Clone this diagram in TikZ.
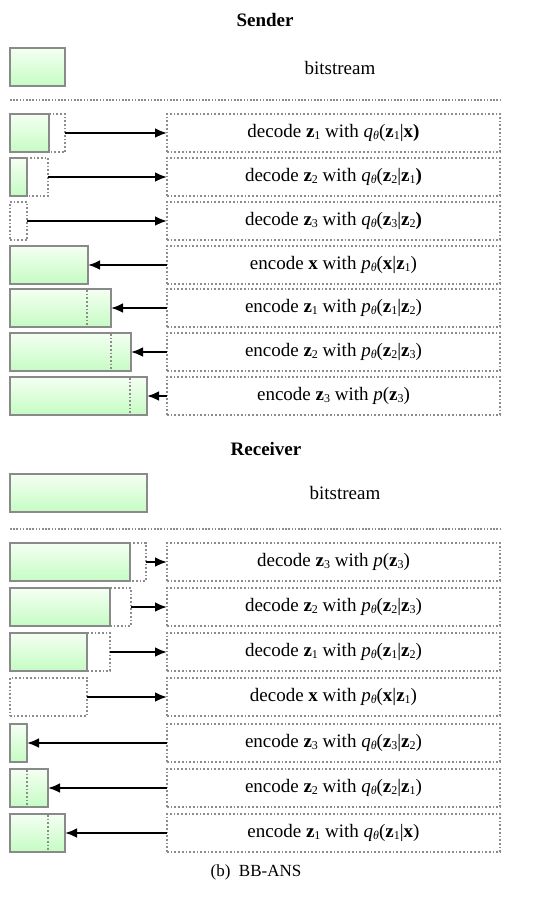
\documentclass[tikz,border=0pt]{standalone}
\usepackage{fontspec}
\setmainfont{Liberation Serif}
\usetikzlibrary{arrows.meta}
\definecolor{gtop}{RGB}{244,255,242}
\definecolor{gbot}{RGB}{198,252,196}
\definecolor{boxgray}{RGB}{138,138,138}
\definecolor{dotgray}{RGB}{140,140,140}
\newcommand\subs[1]{\raisebox{-0.12em}{\fontsize{12}{12}\selectfont #1}}
\newcommand\bz[1]{\textbf{z}\subs{#1}}
\newcommand\bx{\textbf{x}}
\newcommand\qth{\textit{q}\subs{\textit{θ}}}
\newcommand\pth{\textit{p}\subs{\textit{θ}}}
\tikzset{
  greenbox/.style={draw=boxgray, line width=2.2pt, top color=gtop, bottom color=gbot,
    inner sep=0pt, outer sep=0pt, anchor=north west, minimum height=38pt},
  dotbox/.style={draw=dotgray, line width=1.7pt, dash pattern=on 1.7pt off 2pt,
    inner sep=0pt, outer sep=0pt, anchor=north west, minimum height=38pt},
  opbox/.style={dotbox, minimum width=333pt, font=\fontsize{19}{22}\selectfont},
  arr/.style={line width=2.5pt, -{Latex[length=12pt,width=10pt]}},
  divline/.style={draw=dotgray, line width=1.7pt, dash pattern=on 1.7pt off 2pt},
  sepline/.style={draw=dotgray, line width=1.5pt, dash pattern=on 1.5pt off 1.7pt},
  title/.style={font=\fontsize{19}{22}\selectfont\bfseries},
  lbl/.style={font=\fontsize{19}{22}\selectfont},
}
\begin{document}
\begin{tikzpicture}[x=1pt,y=-1pt]
\useasboundingbox (0,0) rectangle (539,898);
% ---------------- Sender ----------------
\node[title] (stitle) at (265,20) {Sender};
\node[greenbox, minimum width=55pt] (sbits) at (10,48) {};
\node[lbl] (sbitslbl) at (340,68) {bitstream};
\draw[sepline] (10,100) -- (500,100);
% row 1
\node[dotbox, minimum width=55pt] (s1d) at (10,114) {};
\node[greenbox, minimum width=39pt] (s1g) at (10,114) {};
\node[opbox] (s1t) at (167,114) {decode \bz1 with \qth(\bz1|\bx\textbf{)}};
\draw[arr] (s1d.east) -- (s1t.west);
% row 2
\node[dotbox, minimum width=38pt] (s2d) at (10,158) {};
\node[greenbox, minimum width=17pt] (s2g) at (10,158) {};
\node[opbox] (s2t) at (167,158) {decode \bz2 with \qth(\bz2|\bz1\textbf{)}};
\draw[arr] (s2d.east) -- (s2t.west);
% row 3
\node[dotbox, minimum width=17pt] (s3d) at (10,202) {};
\node[opbox] (s3t) at (167,202) {decode \bz3 with \qth(\bz3|\bz2\textbf{)}};
\draw[arr] (s3d.east) -- (s3t.west);
% row 4
\node[greenbox, minimum width=78pt] (s4g) at (10,246) {};
\node[opbox] (s4t) at (167,246) {encode \bx\ with \pth(\bx|\bz1)};
\draw[arr] (s4t.west) -- (s4g.east);
% row 5
\node[greenbox, minimum width=101pt] (s5g) at (10,289) {};
\draw[divline] (87,290) -- (87,327);
\node[opbox] (s5t) at (167,289) {encode \bz1 with \pth(\bz1|\bz2)};
\draw[arr] (s5t.west) -- (s5g.east);
% row 6
\node[greenbox, minimum width=121pt] (s6g) at (10,333) {};
\draw[divline] (111,334) -- (111,371);
\node[opbox] (s6t) at (167,333) {encode \bz2 with \pth(\bz2|\bz3)};
\draw[arr] (s6t.west) -- (s6g.east);
% row 7
\node[greenbox, minimum width=137pt] (s7g) at (10,377) {};
\draw[divline] (130,378) -- (130,415);
\node[opbox] (s7t) at (167,377) {encode \bz3 with \textit{p}(\bz3)};
\draw[arr] (s7t.west) -- (s7g.east);
% ---------------- Receiver ----------------
\node[title] (rtitle) at (266,449) {Receiver};
\node[greenbox, minimum width=137pt] (rbits) at (10,474) {};
\node[lbl] (rbitslbl) at (345,493) {bitstream};
\draw[sepline] (10,529) -- (500,529);
% row 1
\node[dotbox, minimum width=136pt] (r1d) at (10,543) {};
\node[greenbox, minimum width=120pt] (r1g) at (10,543) {};
\node[opbox] (r1t) at (167,543) {decode \bz3 with \textit{p}(\bz3)};
\draw[arr] (r1d.east) -- (r1t.west);
% row 2
\node[dotbox, minimum width=121pt] (r2d) at (10,588) {};
\node[greenbox, minimum width=100pt] (r2g) at (10,588) {};
\node[opbox] (r2t) at (167,588) {decode \bz2 with \pth(\bz2|\bz3)};
\draw[arr] (r2d.east) -- (r2t.west);
% row 3
\node[dotbox, minimum width=100pt] (r3d) at (10,633) {};
\node[greenbox, minimum width=77pt] (r3g) at (10,633) {};
\node[opbox] (r3t) at (167,633) {decode \bz1 with \pth(\bz1|\bz2)};
\draw[arr] (r3d.east) -- (r3t.west);
% row 4
\node[dotbox, minimum width=77pt] (r4d) at (10,678) {};
\node[opbox] (r4t) at (167,678) {decode \bx\ with \pth(\bx|\bz1)};
\draw[arr] (r4d.east) -- (r4t.west);
% row 5
\node[greenbox, minimum width=17pt] (r5g) at (10,724) {};
\node[opbox] (r5t) at (167,724) {encode \bz3 with \qth(\bz3|\bz2)};
\draw[arr] (r5t.west) -- (r5g.east);
% row 6
\node[greenbox, minimum width=38pt] (r6g) at (10,769) {};
\draw[divline] (27,770) -- (27,807);
\node[opbox] (r6t) at (167,769) {encode \bz2 with \qth(\bz2|\bz1)};
\draw[arr] (r6t.west) -- (r6g.east);
% row 7
\node[greenbox, minimum width=55pt] (r7g) at (10,814) {};
\draw[divline] (48,815) -- (48,852);
\node[opbox] (r7t) at (167,814) {encode \bz1 with \qth(\bz1|\bx)};
\draw[arr] (r7t.west) -- (r7g.east);
% caption
\node[font=\fontsize{17}{20}\selectfont] (cap) at (256,872) {(b)\ \ BB-ANS};
\end{tikzpicture}
\end{document}
